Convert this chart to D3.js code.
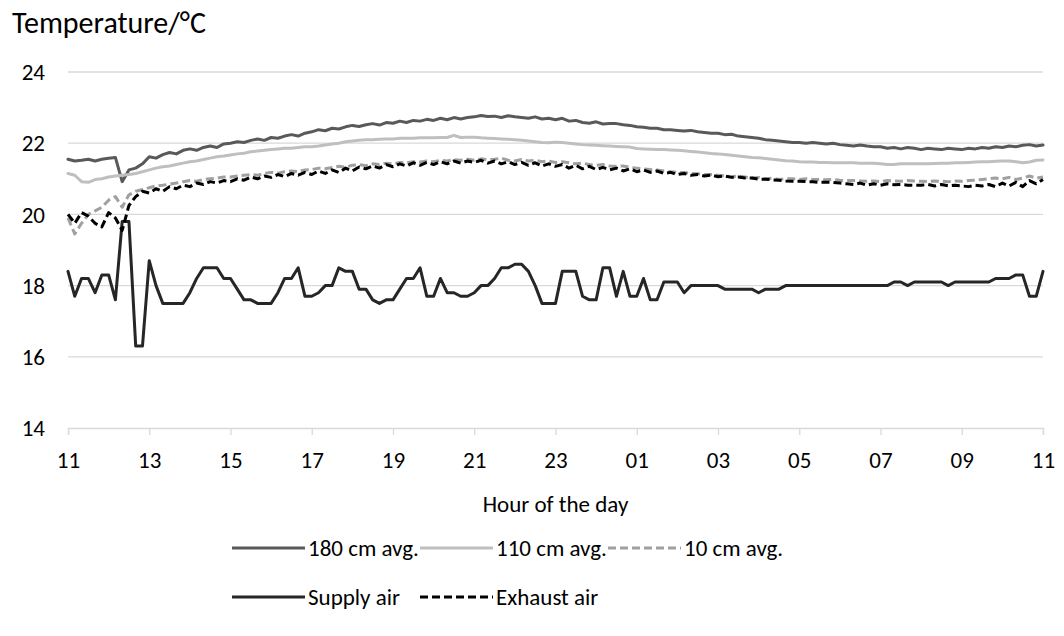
<!DOCTYPE html>
<html>
<head>
<meta charset="utf-8">
<script src="https://cdn.jsdelivr.net/npm/d3@7"></script>
<style>
    body { margin: 0; background: #fff; }
    svg text { font-family: Carlito, Calibri, Lato, sans-serif; fill: #000; }
</style>
</head>
<body>
<svg id="chart"></svg>
<script>
// hours after 11:00, one reading every 10 minutes (145 readings over 24 h)
const stepHours = 1 / 6;

const xTickLabels = ["11", "13", "15", "17", "19", "21", "23", "01", "03", "05", "07", "09", "11"];
const yTicks = [14, 16, 18, 20, 22, 24];

// one row per two hours
const avg180 = [
    21.55, 21.50, 21.52, 21.55, 21.50, 21.55, 21.58, 21.60, 20.92, 21.25, 21.30, 21.42,
    21.62, 21.58, 21.68, 21.74, 21.70, 21.80, 21.84, 21.80, 21.88, 21.92, 21.88, 21.98,
    22.00, 22.04, 22.02, 22.08, 22.12, 22.08, 22.16, 22.14, 22.20, 22.24, 22.20, 22.28,
    22.32, 22.38, 22.35, 22.42, 22.40, 22.46, 22.50, 22.47, 22.52, 22.55, 22.51, 22.58,
    22.56, 22.62, 22.58, 22.64, 22.62, 22.67, 22.64, 22.70, 22.66, 22.72, 22.68, 22.72,
    22.74, 22.78, 22.75, 22.76, 22.72, 22.77, 22.74, 22.72, 22.70, 22.74, 22.68, 22.70,
    22.66, 22.70, 22.62, 22.64, 22.58, 22.56, 22.60, 22.54, 22.55, 22.55, 22.52, 22.50,
    22.46, 22.45, 22.42, 22.42, 22.38, 22.38, 22.36, 22.34, 22.36, 22.32, 22.30, 22.28,
    22.28, 22.24, 22.25, 22.20, 22.18, 22.16, 22.14, 22.10, 22.08, 22.06, 22.04, 22.02,
    22.02, 22.00, 22.02, 22.00, 21.98, 22.00, 21.96, 21.94, 21.92, 21.95, 21.92, 21.90,
    21.90, 21.86, 21.88, 21.84, 21.88, 21.86, 21.82, 21.86, 21.84, 21.82, 21.86, 21.84,
    21.82, 21.86, 21.84, 21.88, 21.86, 21.90, 21.88, 21.92, 21.90, 21.94, 21.96, 21.92,
    21.95
];

const avg110 = [
    21.15, 21.10, 20.92, 20.90, 20.98, 21.00, 21.05, 21.08, 21.10, 21.12, 21.15, 21.20,
    21.25, 21.30, 21.34, 21.36, 21.40, 21.44, 21.48, 21.50, 21.54, 21.58, 21.62, 21.64,
    21.67, 21.70, 21.72, 21.76, 21.78, 21.80, 21.82, 21.84, 21.86, 21.86, 21.88, 21.90,
    21.90, 21.92, 21.95, 21.98, 22.00, 22.04, 22.06, 22.08, 22.10, 22.10, 22.11, 22.12,
    22.12, 22.14, 22.14, 22.14, 22.15, 22.15, 22.15, 22.16, 22.16, 22.22, 22.16, 22.17,
    22.17, 22.15, 22.14, 22.13, 22.12, 22.11, 22.10, 22.08, 22.06, 22.04, 22.02, 22.01,
    22.03, 22.02, 22.00, 21.98, 21.96, 21.95, 21.94, 21.93, 21.92, 21.91, 21.90, 21.89,
    21.85, 21.84, 21.83, 21.82, 21.82, 21.81, 21.80, 21.79, 21.77, 21.75, 21.73, 21.71,
    21.70, 21.68, 21.66, 21.64, 21.62, 21.60, 21.59, 21.57, 21.55, 21.53, 21.51, 21.50,
    21.48, 21.47, 21.47, 21.46, 21.46, 21.45, 21.45, 21.45, 21.45, 21.44, 21.44, 21.44,
    21.42, 21.40, 21.40, 21.42, 21.42, 21.42, 21.42, 21.42, 21.43, 21.44, 21.44, 21.45,
    21.45, 21.46, 21.47, 21.48, 21.48, 21.49, 21.50, 21.50, 21.48, 21.45, 21.47, 21.52,
    21.53
];

const avg10 = [
    19.90, 19.45, 19.75, 20.00, 20.10, 20.20, 20.40, 20.50, 20.20, 20.55, 20.65, 20.70,
    20.75, 20.80, 20.82, 20.85, 20.88, 20.92, 20.95, 20.93, 20.98, 21.00, 21.02, 21.05,
    21.05, 21.08, 21.10, 21.12, 21.10, 21.15, 21.18, 21.16, 21.20, 21.22, 21.20, 21.25,
    21.26, 21.30, 21.28, 21.32, 21.35, 21.33, 21.38, 21.40, 21.37, 21.42, 21.40, 21.44,
    21.42, 21.46, 21.45, 21.48, 21.47, 21.50, 21.48, 21.52, 21.50, 21.54, 21.52, 21.55,
    21.52, 21.56, 21.54, 21.55, 21.58, 21.52, 21.50, 21.54, 21.50, 21.52, 21.48, 21.50,
    21.46, 21.48, 21.45, 21.42, 21.44, 21.40, 21.38, 21.40, 21.36, 21.35, 21.36, 21.32,
    21.30, 21.28, 21.26, 21.25, 21.22, 21.20, 21.18, 21.18, 21.15, 21.14, 21.12, 21.12,
    21.10, 21.08, 21.06, 21.08, 21.05, 21.02, 21.04, 21.00, 21.02, 20.98, 21.00, 21.00,
    20.98, 21.00, 20.98, 20.98, 20.97, 20.98, 20.96, 20.95, 20.95, 20.94, 20.93, 20.94,
    20.92, 20.95, 20.94, 20.93, 20.95, 20.94, 20.93, 20.92, 20.94, 20.93, 20.92, 20.94,
    20.93, 20.95, 20.96, 20.98, 21.00, 21.02, 21.00, 21.04, 20.98, 21.02, 21.08, 21.02,
    21.05
];

const supplyAir = [
    18.4, 17.7, 18.2, 18.2, 17.8, 18.3, 18.3, 17.6, 19.8, 19.8, 16.3, 16.3,
    18.7, 18.0, 17.5, 17.5, 17.5, 17.5, 17.8, 18.2, 18.5, 18.5, 18.5, 18.2,
    18.2, 17.9, 17.6, 17.6, 17.5, 17.5, 17.5, 17.8, 18.2, 18.2, 18.5, 17.7,
    17.7, 17.8, 18.0, 18.0, 18.5, 18.4, 18.4, 17.9, 17.9, 17.6, 17.5, 17.6,
    17.6, 17.9, 18.2, 18.2, 18.5, 17.7, 17.7, 18.2, 17.8, 17.8, 17.7, 17.7,
    17.8, 18.0, 18.0, 18.2, 18.5, 18.5, 18.6, 18.6, 18.4, 18.0, 17.5, 17.5,
    17.5, 18.4, 18.4, 18.4, 17.7, 17.6, 17.6, 18.5, 18.5, 17.7, 18.4, 17.7,
    17.7, 18.2, 17.6, 17.6, 18.1, 18.1, 18.1, 17.8, 18.0, 18.0, 18.0, 18.0,
    18.0, 17.9, 17.9, 17.9, 17.9, 17.9, 17.8, 17.9, 17.9, 17.9, 18.0, 18.0,
    18.0, 18.0, 18.0, 18.0, 18.0, 18.0, 18.0, 18.0, 18.0, 18.0, 18.0, 18.0,
    18.0, 18.0, 18.1, 18.1, 18.0, 18.1, 18.1, 18.1, 18.1, 18.1, 18.0, 18.1,
    18.1, 18.1, 18.1, 18.1, 18.1, 18.2, 18.2, 18.2, 18.3, 18.3, 17.7, 17.7,
    18.4
];

const exhaustAir = [
    20.00, 19.75, 20.05, 19.95, 19.75, 19.65, 20.05, 19.90, 19.55, 20.25, 20.50, 20.65,
    20.60, 20.72, 20.65, 20.78, 20.72, 20.82, 20.78, 20.88, 20.84, 20.92, 20.88, 20.95,
    20.92, 21.00, 20.96, 21.05, 21.00, 21.08, 21.04, 21.12, 21.06, 21.15, 21.10, 21.18,
    21.12, 21.22, 21.15, 21.25, 21.18, 21.30, 21.22, 21.33, 21.28, 21.36, 21.30, 21.40,
    21.34, 21.42, 21.36, 21.45, 21.38, 21.46, 21.40, 21.48, 21.42, 21.50, 21.44, 21.50,
    21.46, 21.52, 21.44, 21.50, 21.42, 21.48, 21.40, 21.46, 21.38, 21.45, 21.36, 21.42,
    21.35, 21.40, 21.30, 21.38, 21.28, 21.35, 21.26, 21.32, 21.25, 21.30, 21.22, 21.28,
    21.20, 21.25, 21.18, 21.22, 21.15, 21.18, 21.12, 21.15, 21.10, 21.12, 21.08, 21.10,
    21.06, 21.08, 21.04, 21.05, 21.02, 21.02, 20.99, 20.99, 20.97, 20.96, 20.94, 20.93,
    20.93, 20.92, 20.92, 20.90, 20.90, 20.90, 20.88, 20.86, 20.84, 20.88, 20.82, 20.86,
    20.82, 20.86, 20.83, 20.84, 20.82, 20.82, 20.82, 20.84, 20.80, 20.84, 20.80, 20.82,
    20.80, 20.78, 20.82, 20.80, 20.84, 20.78, 20.88, 20.80, 20.90, 20.78, 20.95, 20.86,
    20.98
];

const seriesNames = ["180 cm avg.", "110 cm avg.", "10 cm avg.", "Supply air", "Exhaust air"];

const series = [
    { name: seriesNames[0], values: avg180, color: "#595959", dash: null },
    { name: seriesNames[1], values: avg110, color: "#bfbfbf", dash: null },
    { name: seriesNames[2], values: avg10, color: "#a0a0a0", dash: "8,4" },
    { name: seriesNames[3], values: supplyAir, color: "#262626", dash: null },
    { name: seriesNames[4], values: exhaustAir, color: "#000000", dash: "8,4" }
];

const width = 1064, height = 636;
const margin = { top: 72, right: 21, bottom: 208, left: 68 };

const svg = d3.select("#chart")
    .attr("width", width)
    .attr("height", height);

const x = d3.scaleLinear()
    .domain([0, 24])
    .range([margin.left, width - margin.right]);

const y = d3.scaleLinear()
    .domain([14, 24])
    .range([height - margin.bottom, margin.top]);

// gridlines
svg.append("g")
    .selectAll("line")
    .data(yTicks.slice(1))
    .join("line")
    .attr("x1", x(0))
    .attr("x2", x(24))
    .attr("y1", d => y(d))
    .attr("y2", d => y(d))
    .attr("stroke", "#d9d9d9")
    .attr("stroke-width", 1.3);

// y labels
svg.append("g")
    .selectAll("text")
    .data(yTicks)
    .join("text")
    .attr("x", 45)
    .attr("y", d => y(d))
    .attr("dy", "0.36em")
    .attr("text-anchor", "end")
    .style("font-size", "23px")
    .text(d => d);

// x axis with tick marks
const xAxis = d3.axisBottom(x)
    .tickValues(d3.range(0, 25, 2))
    .tickFormat((d, i) => xTickLabels[i])
    .tickSize(7)
    .tickPadding(17);

const xAxisG = svg.append("g")
    .attr("transform", `translate(0,${y(14)})`)
    .call(xAxis);

xAxisG.select(".domain").attr("stroke", "#d9d9d9").attr("stroke-width", 1.3);
xAxisG.selectAll(".tick line").attr("stroke", "#d9d9d9").attr("stroke-width", 1.3);
xAxisG.selectAll(".tick text")
    .style("font-size", "23px")
    .attr("fill", "#000");

// titles
svg.append("text")
    .attr("x", 12)
    .attr("y", 33)
    .style("font-size", "30px")
    .text("Temperature/°C");

svg.append("text")
    .attr("x", (x(0) + x(24)) / 2)
    .attr("y", 512)
    .attr("text-anchor", "middle")
    .style("font-size", "23px")
    .text("Hour of the day");

// lines
const line = d3.line()
    .x((d, i) => x(i * stepHours))
    .y(d => y(d));

svg.append("g")
    .selectAll("path")
    .data(series)
    .join("path")
    .attr("d", d => line(d.values))
    .attr("fill", "none")
    .attr("stroke", d => d.color)
    .attr("stroke-width", 3)
    .attr("stroke-linejoin", "round")
    .attr("stroke-linecap", d => d.dash ? "butt" : "round")
    .attr("stroke-dasharray", d => d.dash);

// legend: three entries per row, fixed column width
const legendX = 232, legendY = 548, colW = 188, rowH = 49;

const legend = svg.append("g")
    .selectAll("g")
    .data(series)
    .join("g")
    .attr("transform", (d, i) => `translate(${legendX + (i % 3) * colW},${legendY + Math.floor(i / 3) * rowH})`);

legend.append("line")
    .attr("x1", 0)
    .attr("x2", 73)
    .attr("stroke", d => d.color)
    .attr("stroke-width", 3)
    .attr("stroke-dasharray", d => d.dash);

legend.append("text")
    .attr("x", 76)
    .attr("dy", "0.36em")
    .style("font-size", "23px")
    .text(d => d.name);
</script>
</body>
</html>
